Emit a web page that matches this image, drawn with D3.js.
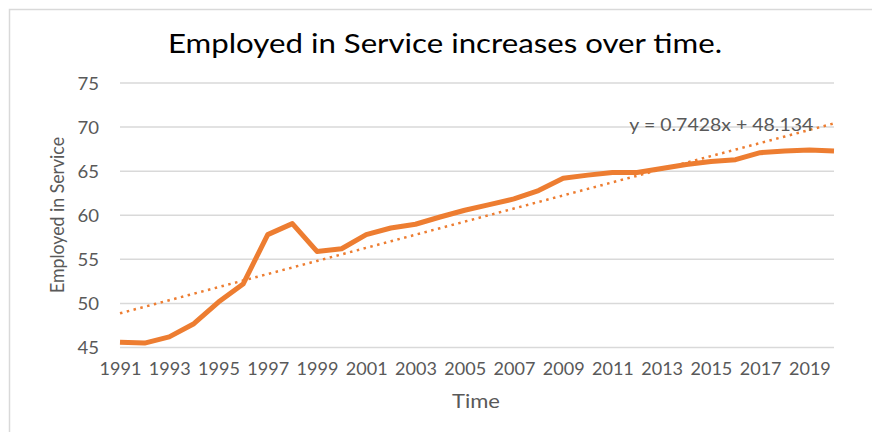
<!DOCTYPE html>
<html>
<head>
<meta charset="utf-8">
<script src="https://cdn.jsdelivr.net/npm/d3@7"></script>
<style>
  html, body { margin: 0; padding: 0; background: #fff; }
  svg { display: block; }
  text { font-family: Lato, "Open Sans", sans-serif; fill: #595959; }
</style>
</head>
<body>
<svg id="chart" width="872" height="432"></svg>
<script>
// Share of employment in services, by year
const years = d3.range(1991, 2021);
const employedInService = [
  45.6, 45.5, 46.2, 47.7, 50.15, 52.2, 57.8, 59.05, 55.9, 56.2,
  57.8, 58.55, 58.98, 59.8, 60.57, 61.2, 61.85, 62.8, 64.2, 64.55,
  64.85, 64.85, 65.3, 65.75, 66.1, 66.3, 67.1, 67.3, 67.4, 67.3
];
const yTicks = [45, 50, 55, 60, 65, 70, 75];
const xTickYears = d3.range(1991, 2020, 2);
// Linear trend fitted against the year index (1..30)
const trendSlope = 0.7428;
const trendIntercept = 48.134;
const trendLabel = "y = 0.7428x + 48.134";

const svg = d3.select("#chart");
const W = 872, H = 432;
const plot = { left: 120, right: 834, top: 83, bottom: 347.5 };
const orange = "#ED7D31";
const grid = "#D9D9D9";

// Scale a text run horizontally by factor k
function widen(sel, k) {
  sel.each(function () {
    const len = this.getComputedTextLength();
    d3.select(this).attr("textLength", len * k).attr("lengthAdjust", "spacingAndGlyphs");
  });
}
// Set a text run to an exact width
function fitTo(sel, w) {
  sel.attr("textLength", w).attr("lengthAdjust", "spacingAndGlyphs");
}

// Chart frame
svg.append("path")
  .attr("d", `M9.5,${H} V9.5 H${W}`)
  .attr("fill", "none").attr("stroke", grid).attr("stroke-width", 1.5);

const x = d3.scalePoint().domain(years).range([plot.left, plot.right]);
const y = d3.scaleLinear().domain([45, 75]).range([plot.bottom, plot.top]);

// Gridlines
svg.append("g").selectAll("line").data(yTicks).join("line")
  .attr("x1", plot.left).attr("x2", plot.right)
  .attr("y1", d => y(d)).attr("y2", d => y(d))
  .attr("stroke", grid).attr("stroke-width", 1.5);

// Y axis labels
const yAxis = svg.append("g")
  .attr("transform", `translate(${plot.left - 21},0)`)
  .call(d3.axisLeft(y).tickValues(yTicks).tickSize(0).tickPadding(0));
yAxis.select(".domain").remove();
yAxis.selectAll("text")
  .style("font-family", "Lato, sans-serif").style("fill", "#595959")
  .attr("font-size", 17.5).attr("dy", "0.36em").call(widen, 1.06);

// X axis labels
const xAxis = svg.append("g")
  .attr("transform", `translate(0,${plot.bottom + 13})`)
  .call(d3.axisBottom(x).tickValues(xTickYears).tickSize(0).tickPadding(0));
xAxis.select(".domain").remove();
xAxis.selectAll("text")
  .style("font-family", "Lato, sans-serif").style("fill", "#595959")
  .attr("font-size", 17.5).attr("dy", "0.85em").call(widen, 1.03);

// Trendline
const trend = years.map((yr, i) => ({ yr, v: trendSlope * (i + 1) + trendIntercept }));
svg.append("path")
  .datum(trend)
  .attr("d", d3.line().x(d => x(d.yr)).y(d => y(d.v)))
  .attr("fill", "none").attr("stroke", orange).attr("stroke-width", 2.5)
  .attr("stroke-dasharray", "2.5 4.5");

// Data line
svg.append("path")
  .datum(years.map((yr, i) => ({ yr, v: employedInService[i] })))
  .attr("d", d3.line().x(d => x(d.yr)).y(d => y(d.v)))
  .attr("fill", "none").attr("stroke", orange).attr("stroke-width", 5)
  .attr("stroke-linejoin", "round");

// Trend equation
svg.append("text")
  .attr("x", x(2019) + 4).attr("y", y(70) + 3.5)
  .attr("text-anchor", "end")
  .attr("font-size", 17.5)
  .text(trendLabel).call(fitTo, 184);

// Title
svg.append("text")
  .attr("x", 445).attr("y", 53)
  .attr("text-anchor", "middle")
  .attr("font-size", 26.5)
  .style("fill", "#000")
  .text("Employed in Service increases over time.").call(fitTo, 554);

// Axis titles
svg.append("text")
  .attr("transform", `translate(64,215) rotate(-90)`)
  .attr("text-anchor", "middle")
  .attr("font-size", 18.5)
  .text("Employed in Service").call(fitTo, 156);

svg.append("text")
  .attr("x", 476).attr("y", 408)
  .attr("text-anchor", "middle")
  .attr("font-size", 19)
  .text("Time").call(fitTo, 48);
</script>
</body>
</html>
